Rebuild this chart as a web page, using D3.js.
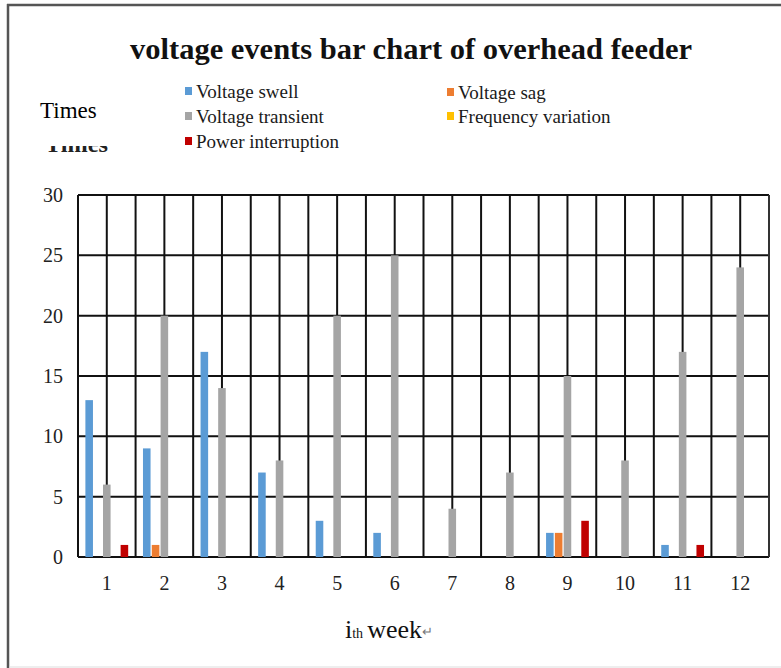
<!DOCTYPE html>
<html>
<head>
<meta charset="utf-8">
<script src="https://cdn.jsdelivr.net/npm/d3@7"></script>
<style>
  html, body { margin: 0; padding: 0; background: #fff; }
  svg { display: block; }
</style>
</head>
<body>
<svg id="chart" width="781" height="668" font-family="'Liberation Serif', 'Times New Roman', serif"></svg>
<script>
const weeks = ["1","2","3","4","5","6","7","8","9","10","11","12"];
const seriesNames = ["Voltage swell","Voltage sag","Voltage transient","Frequency variation","Power interruption"];
const seriesColors = ["#5B9BD5","#ED7D31","#A5A5A5","#FFC000","#C00000"];
const voltageSwell       = [13, 9, 17, 7, 3, 2, 0, 0, 2, 0, 1, 0];
const voltageSag         = [0, 1, 0, 0, 0, 0, 0, 0, 2, 0, 0, 0];
const voltageTransient   = [6, 20, 14, 8, 20, 25, 4, 7, 15, 8, 17, 24];
const frequencyVariation = [0, 0, 0, 0, 0, 0, 0, 0, 0, 0, 0, 0];
const powerInterruption  = [1, 0, 0, 0, 0, 0, 0, 0, 3, 0, 1, 0];
const yTicks = [0, 5, 10, 15, 20, 25, 30];
const titleText = "voltage events bar chart of overhead feeder";

const seriesValues = [voltageSwell, voltageSag, voltageTransient, frequencyVariation, powerInterruption];
const SERIF = "'Liberation Serif', 'Times New Roman', serif";

const svg = d3.select("#chart");
const plot = { left: 78, right: 769, top: 195, bottom: 557 };

// outer frame
svg.append("line").attr("x1", 8).attr("x2", 8).attr("y1", 4).attr("y2", 668)
  .attr("stroke", "#555").attr("stroke-width", 2.5);
svg.append("line").attr("x1", 7).attr("x2", 781).attr("y1", 5).attr("y2", 5)
  .attr("stroke", "#555").attr("stroke-width", 2.5);
svg.append("line").attr("x1", 9).attr("x2", 781).attr("y1", 667).attr("y2", 667)
  .attr("stroke", "#ddd").attr("stroke-width", 1);

// title
svg.append("text").attr("x", 130).attr("y", 59).attr("font-family", SERIF)
  .attr("font-size", 29).attr("font-weight", "bold").attr("fill", "#111")
  .attr("textLength", 562).attr("lengthAdjust", "spacingAndGlyphs")
  .text(titleText);

// "Times" label
svg.append("text").attr("x", 40).attr("y", 118).attr("font-family", SERIF)
  .attr("font-size", 23).attr("fill", "#000").text("Times");
// partially hidden duplicate label
svg.append("clipPath").attr("id", "clipT").append("rect")
  .attr("x", 30).attr("y", 146).attr("width", 100).attr("height", 8);
svg.append("text").attr("x", 45).attr("y", 152).attr("font-family", SERIF)
  .attr("font-size", 24).attr("font-weight", "bold")
  .attr("fill", "#222").attr("clip-path", "url(#clipT)")
  .attr("textLength", 63).attr("lengthAdjust", "spacingAndGlyphs").text("Times");

// legend
const legendPos = [
  { x: 185, y: 98 }, { x: 447, y: 99 },
  { x: 185, y: 123 }, { x: 447, y: 123 },
  { x: 185, y: 148 }
];
const legend = svg.append("g");
seriesNames.forEach((name, i) => {
  const p = legendPos[i];
  legend.append("rect").attr("x", p.x).attr("y", p.y - 11).attr("width", 7).attr("height", 8)
    .attr("fill", seriesColors[i]);
  legend.append("text").attr("x", p.x + 11).attr("y", p.y).attr("font-size", 19)
    .attr("font-family", SERIF).attr("fill", "#1a1a1a").text(name);
});

// scales
const x0 = d3.scaleBand().domain(weeks).range([plot.left, plot.right]).paddingInner(0).paddingOuter(0);
const bw = x0.bandwidth();
const groupW = 42.8;
const x1 = d3.scaleBand().domain(seriesNames)
  .range([(bw - groupW) / 2, (bw + groupW) / 2]).paddingInner(0.14).paddingOuter(0);
const y = d3.scaleLinear().domain([0, 30]).range([plot.bottom, plot.top]);

// grid: horizontal
const grid = svg.append("g");
yTicks.forEach(t => {
  grid.append("line").attr("x1", plot.left).attr("x2", plot.right)
    .attr("y1", y(t)).attr("y2", y(t)).attr("stroke", "#111").attr("stroke-width", 2);
});
// grid: vertical at boundaries and centers
weeks.forEach(w => {
  grid.append("line").attr("x1", x0(w)).attr("x2", x0(w))
    .attr("y1", plot.top).attr("y2", plot.bottom).attr("stroke", "#111").attr("stroke-width", 2);
  grid.append("line").attr("x1", x0(w) + bw / 2).attr("x2", x0(w) + bw / 2)
    .attr("y1", plot.top).attr("y2", plot.bottom).attr("stroke", "#111").attr("stroke-width", 2);
});
grid.append("line").attr("x1", plot.right).attr("x2", plot.right)
  .attr("y1", plot.top).attr("y2", plot.bottom).attr("stroke", "#333").attr("stroke-width", 2);

// bars
const barData = [];
weeks.forEach((w, wi) => {
  seriesNames.forEach((s, si) => {
    barData.push({ week: w, series: s, value: seriesValues[si][wi], color: seriesColors[si] });
  });
});
svg.append("g").selectAll("rect").data(barData.filter(d => d.value > 0)).join("rect")
  .attr("x", d => x0(d.week) + x1(d.series))
  .attr("width", x1.bandwidth())
  .attr("y", d => y(d.value))
  .attr("height", d => y(0) - y(d.value))
  .attr("fill", d => d.color);

// y axis labels
const yAxis = d3.axisLeft(y).tickValues(yTicks).tickSize(0).tickPadding(0);
const yg = svg.append("g").attr("transform", `translate(${plot.left - 15},0)`).call(yAxis)
  .attr("font-family", SERIF);
yg.select(".domain").remove();
yg.selectAll("text").attr("font-size", 20).attr("fill", "#222");

// x axis labels
const xAxis = d3.axisBottom(x0).tickSize(0).tickPadding(0);
const xg = svg.append("g").attr("transform", `translate(0,${plot.bottom + 19})`).call(xAxis)
  .attr("font-family", SERIF);
xg.select(".domain").remove();
xg.selectAll("text").attr("font-size", 20).attr("fill", "#222");

// x axis title
const xt = svg.append("text").attr("x", 345).attr("y", 638).attr("fill", "#111").attr("font-family", SERIF);
xt.append("tspan").attr("font-size", 26).text("i");
xt.append("tspan").attr("font-size", 14).text("th");
xt.append("tspan").attr("font-size", 26).attr("dx", 4).text("week");
xt.append("tspan").attr("font-size", 13).attr("fill", "#777").attr("dy", -2).text("↵");
</script>
</body>
</html>
